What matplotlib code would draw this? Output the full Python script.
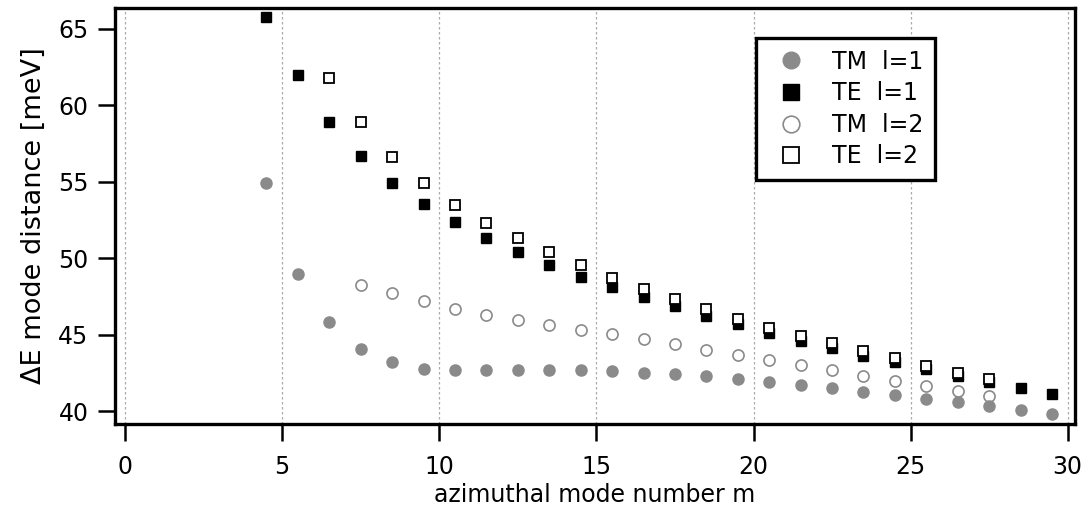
import numpy as np
import matplotlib.pyplot as plt

plt.rcParams['font.family'] = ['DejaVu Sans']

# mode numbers (half-integer positions as in the original figure)
m_tm1 = [4.5, 5.5, 6.5, 7.5, 8.5, 9.5, 10.5, 11.5, 12.5, 13.5, 14.5, 15.5, 16.5,
         17.5, 18.5, 19.5, 20.5, 21.5, 22.5, 23.5, 24.5, 25.5, 26.5, 27.5, 28.5, 29.5]
tm1 = [54.9, 48.95, 45.8, 44.05, 43.2, 42.75, 42.68, 42.68, 42.68, 42.68, 42.66, 42.6,
       42.5, 42.4, 42.27, 42.08, 41.92, 41.7, 41.49, 41.26, 41.03, 40.8, 40.57, 40.3,
       40.06, 39.8]

m_te1 = m_tm1
te1 = [65.8, 62.0, 58.93, 56.67, 54.94, 53.57, 52.37, 51.32, 50.41, 49.58, 48.79, 48.1,
       47.44, 46.87, 46.24, 45.67, 45.13, 44.6, 44.12, 43.62, 43.19, 42.75, 42.31, 41.92,
       41.5, 41.13]

m_tm2 = [7.5, 8.5, 9.5, 10.5, 11.5, 12.5, 13.5, 14.5, 15.5, 16.5, 17.5, 18.5, 19.5,
         20.5, 21.5, 22.5, 23.5, 24.5, 25.5, 26.5, 27.5]
tm2 = [48.25, 47.72, 47.2, 46.7, 46.3, 45.98, 45.65, 45.32, 45.02, 44.69, 44.37, 44.01,
       43.69, 43.32, 42.99, 42.66, 42.31, 41.98, 41.64, 41.33, 40.98]

m_te2 = [6.5, 7.5, 8.5, 9.5, 10.5, 11.5, 12.5, 13.5, 14.5, 15.5, 16.5, 17.5, 18.5, 19.5,
         20.5, 21.5, 22.5, 23.5, 24.5, 25.5, 26.5, 27.5]
te2 = [61.77, 58.93, 56.65, 54.9, 53.5, 52.32, 51.3, 50.38, 49.53, 48.72, 47.98, 47.31,
       46.67, 46.04, 45.45, 44.94, 44.43, 43.9, 43.45, 42.94, 42.51, 42.07]

grey = '#8a8a8a'

fig = plt.figure(figsize=(10.89, 5.15), dpi=100)
ax = fig.add_axes([0.1056, 0.1767, 0.8815, 0.8078])

ax.plot(m_tm1, tm1, 'o', color=grey, ms=8, mec=grey, label='TM  l=1', zorder=3)
ax.plot(m_te1, te1, 's', color='black', ms=7.5, mec='black', label='TE  l=1', zorder=3)
ax.plot(m_tm2, tm2, 'o', mfc='none', mec=grey, ms=8, mew=1.2, label='TM  l=2', zorder=3)
ax.plot(m_te2, te2, 's', mfc='white', mec='black', ms=7.5, mew=1.3, label='TE  l=2', zorder=4)

ax.set_xlim(-0.32, 30.23)
ax.set_ylim(39.15, 66.37)
ax.set_xticks(np.arange(0, 31, 5))
ax.set_yticks(np.arange(40, 66, 5))
ax.grid(axis='x', linestyle=(0, (2, 2)), color='#aaaaaa', linewidth=0.9)
ax.set_axisbelow(True)

for s in ax.spines.values():
    s.set_linewidth(2.4)
ax.tick_params(direction='out', length=12, width=1.8, labelsize=17)
ax.tick_params(axis='x', pad=10)
ax.tick_params(axis='y', pad=7)

ax.set_xlabel('azimuthal mode number m', fontsize=17, labelpad=3)
ax.set_ylabel('ΔE mode distance [meV]', fontsize=19.5, labelpad=8)

leg = ax.legend(loc='upper right', bbox_to_anchor=(0.854, 0.928), borderaxespad=0,
                fontsize=17, fancybox=False, framealpha=1, edgecolor='black',
                handletextpad=0.7, borderpad=0.5, labelspacing=0.32, markerscale=1.5)
leg.get_frame().set_linewidth(2.4)

fig.savefig('out.png', dpi=100)
